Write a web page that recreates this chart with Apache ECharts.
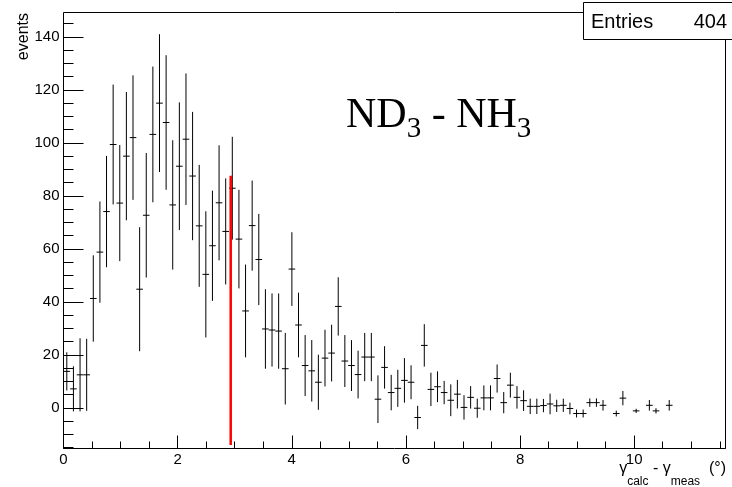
<!DOCTYPE html>
<html>
<head>
<meta charset="utf-8">
<script src="https://cdn.jsdelivr.net/npm/echarts@6.0.0/dist/echarts.min.js"></script>
<style>
html,body{margin:0;padding:0;background:#fff}
#main{width:732px;height:487px}
</style>
</head>
<body>
<div id="main"></div>
<script>
'use strict'
// ND3 - NH3 difference histogram, 100 bins on [0, 11.6]; null = empty bin
var xMin = 0, xMax = 11.6, nBins = 100
var binValues = [
	13.8, 7.2, 12.5, 12.5, 41.3, 58.8, 74.1, 99.4, 77.3, 95.0,
	102.0, 44.8, 72.7, 103.2, 115.0, 107.7, 76.6, 91.2, 101.4, 87.5,
	68.7, 50.4, 61.2, 77.4, 66.6, 82.9, 63.7, 36.6, 68.8, 56.0,
	29.8, 29.4, 29.0, 14.8, 52.4, 31.3, 16.0, 14.0, 9.7, 18.8,
	20.7, 38.3, 17.7, 16.0, 12.6, 19.2, 19.2, 3.3, 15.3, 5.8,
	7.4, 10.4, 9.7, -3.6, 23.6, 7.0, 8.0, 5.8, 2.9, 5.2,
	0.2, 4.0, -0.1, 3.8, 3.8, 11.1, 2.0, 8.6, 4.0, 2.75,
	0.6, 0.6, 0.9, 1.5, 0.8, 1.0, -0.2, -2.1, -2.1, 2.0,
	2.0, 1.0, null, -2.1, 3.7, null, -1.1, null, 1.0, -1.1,
	null, 1.0
]
var binErrors = [
	7.2, 8.5, 13.8, 13.6, 16.3, 19.1, 21.0, 22.6, 21.9, 24.2,
	23.5, 23.4, 23.5, 25.6, 26.0, 25.4, 24.4, 24.1, 24.8, 24.2,
	23.0, 23.8, 20.8, 21.7, 20.0, 19.4, 18.6, 17.5, 17.0, 17.2,
	15.0, 13.8, 14.2, 13.5, 13.9, 12.2, 11.5, 11.6, 10.4, 10.7,
	10.7, 11.0, 9.8, 9.6, 9.0, 9.1, 9.1, 9.0, 8.0, 6.7,
	7.0, 8.4, 6.4, 4.4, 8.0, 6.3, 5.8, 4.4, 6.0, 5.4,
	4.6, 4.25, 3.6, 4.7, 4.7, 5.3, 4.0, 4.7, 4.25, 3.9,
	2.9, 2.9, 2.5, 3.9, 2.3, 2.5, 2.2, 1.5, 1.5, 1.6,
	1.6, 2.0, null, 1.1, 2.7, null, 0.8, null, 2.0, 1.0,
	null, 2.0
]
var entries = 404
// red cut line
var cutX = 2.93
var cutY = [-14, 87.6]
var yMin = -15.3, yMax = 149.2
var yMajorTicks = [0, 20, 40, 60, 80, 100, 120, 140]
var yMinorTicks = [-15, -10, -5, 5, 10, 15, 25, 30, 35, 45, 50, 55, 65, 70, 75, 85, 90, 95, 105, 110, 115, 125, 130, 135, 145]

var binW = (xMax - xMin) / nBins
var points = []
binValues.forEach(function (v, i) {
	if (v === null) return
	points.push([xMin + (i + 0.5) * binW, v, binErrors[i]])
})

function renderErr(params, api) {
	var x = api.value(0), y = api.value(1), e = api.value(2)
	var l = api.coord([x - binW / 2, y])
	var r = api.coord([x + binW / 2, y])
	var t = api.coord([x, y + e])
	var b = api.coord([x, y - e])
	var st = { stroke: '#000', lineWidth: 1 }
	return {
		type: 'group',
		children: [
			{ type: 'line', shape: { x1: l[0], y1: l[1], x2: r[0], y2: r[1] }, style: st },
			{ type: 'line', shape: { x1: t[0], y1: t[1], x2: b[0], y2: b[1] }, style: st }
		]
	}
}

var font = 'Liberation Sans'
var chart = echarts.init(document.getElementById('main'))
var option = {
	animation: false,
	backgroundColor: '#fff',
	grid: { left: 63.5, top: 12.5, width: 662, height: 436, show: true, borderColor: '#000', borderWidth: 1 },
	xAxis: [{
		type: 'value', position: 'bottom', min: xMin, max: xMax, interval: 2,
		axisLine: { show: false, onZero: false },
		axisTick: { inside: true, length: 13, lineStyle: { color: '#000' } },
		axisLabel: { margin: 4, fontSize: 15, color: '#000', fontFamily: font, showMaxLabel: false },
		splitLine: { show: false }
	}, {
		type: 'value', position: 'bottom', min: xMin, max: xMax, interval: 0.5,
		axisLine: { show: false, onZero: false },
		axisTick: { inside: true, length: 7, lineStyle: { color: '#000' } },
		axisLabel: { show: false },
		splitLine: { show: false }
	}],
	yAxis: [{
		type: 'value', position: 'left', min: yMin, max: yMax,
		axisLine: { show: false, onZero: false },
		axisTick: { inside: true, length: 20, customValues: yMajorTicks, lineStyle: { color: '#000' } },
		axisLabel: { customValues: yMajorTicks, margin: 4, fontSize: 15, color: '#000', fontFamily: font },
		splitLine: { show: false }
	}, {
		type: 'value', position: 'left', min: yMin, max: yMax,
		axisLine: { show: false, onZero: false },
		axisTick: { inside: true, length: 10, customValues: yMinorTicks, lineStyle: { color: '#000' } },
		axisLabel: { show: false },
		splitLine: { show: false }
	}],
	series: [{
		type: 'custom',
		renderItem: renderErr,
		data: points,
		encode: { x: 0, y: 1 },
		clip: true
	}, {
		type: 'line',
		data: [[cutX, cutY[0]], [cutX, cutY[1]]],
		symbol: 'none',
		lineStyle: { color: '#ff0000', width: 2.5 },
		z: 5
	}],
	graphic: [{
		type: 'text', x: 23.8, y: 13, rotation: Math.PI / 2,
		style: { text: 'events', fontSize: 16, fontFamily: font, fill: '#000', align: 'right', verticalAlign: 'middle' }
	}, {
		type: 'text', x: 726, y: 461,
		style: {
			text: '{g|γ}{s|calc}{g| - γ}{s|meas}{g|  (°)}',
			align: 'right', verticalAlign: 'top', fill: '#000',
			rich: {
				g: { fontSize: 16, fontFamily: font, lineHeight: 16, verticalAlign: 'top' },
				s: { fontSize: 12, fontFamily: font, lineHeight: 12, padding: [15, 0, 0, 0], verticalAlign: 'top' }
			}
		}
	}, {
		type: 'text', x: 346, y: 95,
		style: {
			text: '{m|ND}{s|3}{m| - NH}{s|3}',
			align: 'left', verticalAlign: 'top', fill: '#000',
			rich: {
				m: { fontSize: 42, fontFamily: 'Liberation Serif', lineHeight: 42, verticalAlign: 'top' },
				s: { fontSize: 29, fontFamily: 'Liberation Serif', lineHeight: 29, padding: [20, 0, 0, 0], verticalAlign: 'top' }
			}
		}
	}, {
		type: 'rect', z: 100,
		shape: { x: 583.5, y: 2.5, width: 160, height: 37 },
		style: { fill: '#fff', stroke: '#000', lineWidth: 1 }
	}, {
		type: 'text', z: 101, x: 591, y: 22,
		style: { text: 'Entries', fontSize: 20, fontFamily: font, fill: '#000', align: 'left', verticalAlign: 'middle' }
	}, {
		type: 'text', z: 101, x: 727, y: 22,
		style: { text: String(entries), fontSize: 20, fontFamily: font, fill: '#000', align: 'right', verticalAlign: 'middle' }
	}]
}
chart.setOption(option)
window.onresize = chart.resize
</script>
</body>
</html>
